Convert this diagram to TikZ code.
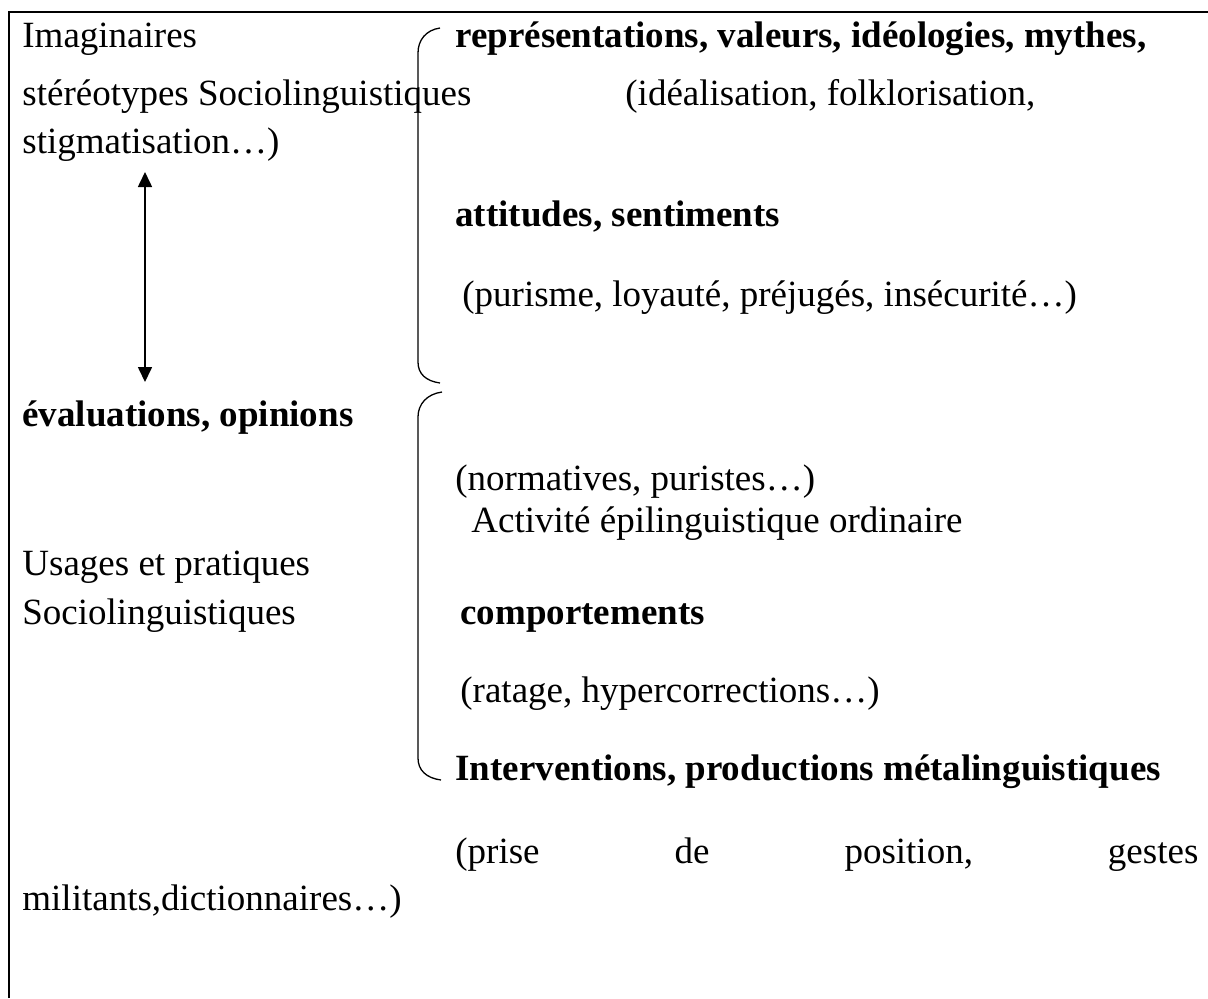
\documentclass[tikz,border=0pt]{standalone}
\usepackage{fontspec}
\setmainfont{Liberation Serif}
\usetikzlibrary{arrows.meta}
\begin{document}
\begin{tikzpicture}[x=0.5pt,y=-0.5pt,
  txt/.style={anchor=base west,inner sep=0pt,font=\fontsize{18.5}{22}\selectfont},
  btxt/.style={txt,font=\fontsize{18.5}{22}\selectfont\bfseries},
  frameline/.style={line width=1pt},
  bracketline/.style={line width=0.65pt},
  dblarrow/.style={line width=0.8pt,{Triangle[width=7pt,length=7.5pt]}-{Triangle[width=7pt,length=7.5pt]}}]
\useasboundingbox (0,0) rectangle (1208,998);
% frame
\draw[frameline] (9,998) -- (9,12) -- (1208,12);
% brackets
\draw[bracketline] (440,28) .. controls (426,30) and (418,40) .. (418,53) -- (418,362) .. controls (418,374) and (426,381) .. (440,383);
\draw[bracketline] (442,392) .. controls (427,394) and (418,404) .. (418,417) -- (418,758) .. controls (418,770) and (426,778) .. (441,780);
% left column
\node[txt] (imag) at (22,47) {Imaginaires};
\node[txt] (stereo) at (22,105) {stéréotypes Sociolinguistiques};
\node[txt] (stigma) at (22,153) {stigmatisation…)};
\node[btxt] (eval) at (22,426) {évaluations, opinions};
\node[txt] (usages) at (22,575) {Usages et pratiques};
\node[txt] (socio) at (22,624) {Sociolinguistiques};
\node[txt] (milit) at (22,910) {militants,dictionnaires…)};
% right column
\node[btxt] (repr) at (455,47) {représentations, valeurs, idéologies, mythes,};
\node[txt] (ideal) at (625,105) {(idéalisation, folklorisation,};
\node[btxt] (attit) at (455,226) {attitudes, sentiments};
\node[txt] (puris) at (462,306) {(purisme, loyauté, préjugés, insécurité…)};
\node[txt] (norma) at (455,490) {(normatives, puristes…)};
\node[txt] (activ) at (471,532) {Activité épilinguistique ordinaire};
\node[btxt] (compo) at (460,624) {comportements};
\node[txt] (ratag) at (460,702) {(ratage, hypercorrections…)};
\node[btxt] (inter) at (455,780) {Interventions, productions métalinguistiques};
\node[txt,text width=371.5pt] (prise) at (455,863) {(prise\hfill de\hfill position,\hfill gestes};
% arrow
\coordinate (atop) at (145,172);
\coordinate (abot) at (145,382);
\draw[dblarrow] (atop) -- (abot);
\end{tikzpicture}
\end{document}
